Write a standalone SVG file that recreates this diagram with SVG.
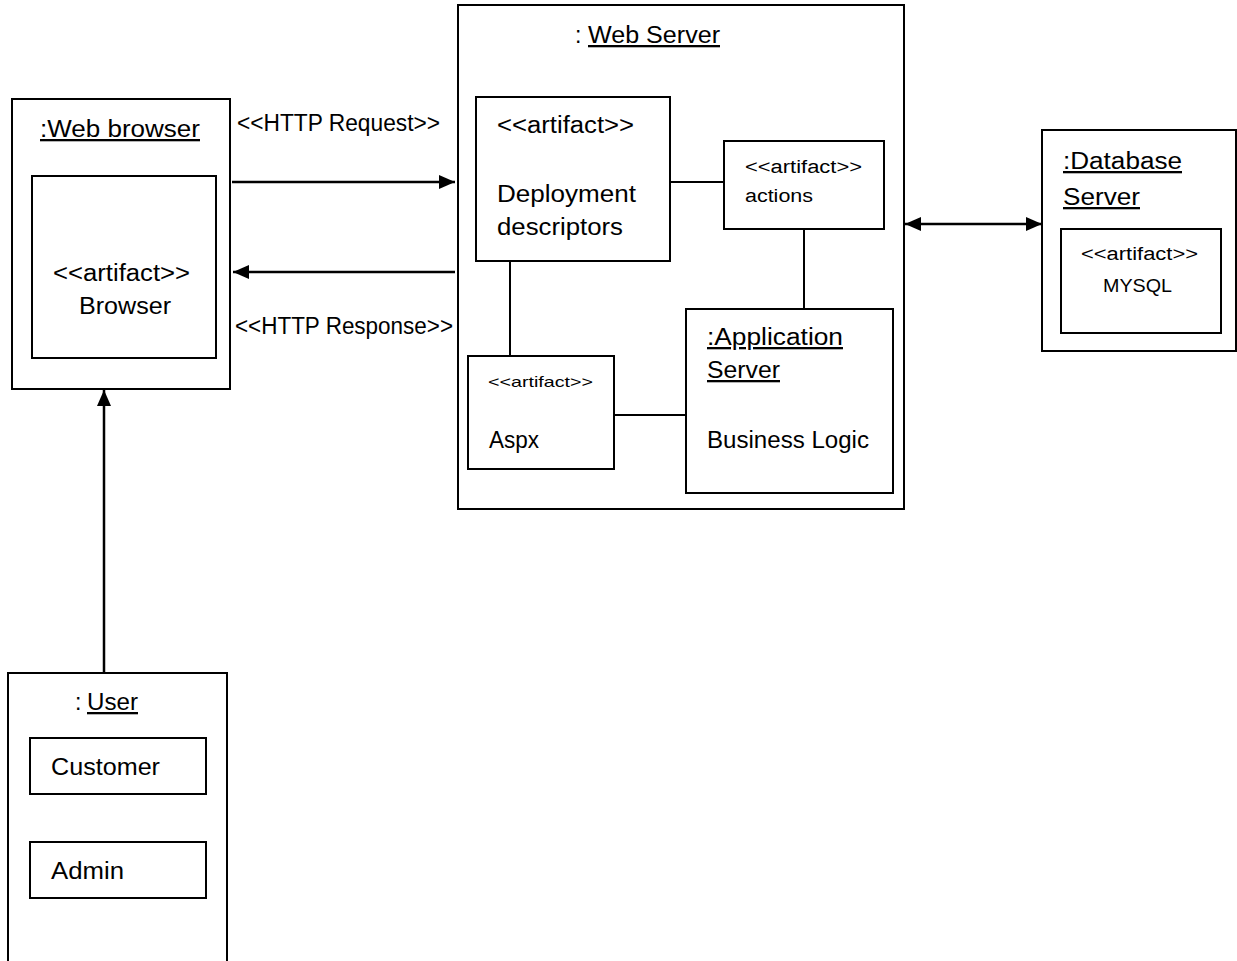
<svg xmlns="http://www.w3.org/2000/svg" width="1237" height="961" viewBox="0 0 1237 961">
<style>
  .box { fill: #ffffff; stroke: #000; stroke-width: 2; }
  .t { font-family: "Liberation Sans", Arial, sans-serif; font-size: 23px; fill: #000; }
  .s { font-size: 18px; }
  .xs { font-size: 15px; }
  .u { text-decoration: underline; }
  .arrow { stroke: #000; stroke-width: 2.5; fill: none; }
  .link { stroke: #000; stroke-width: 2; fill: none; }
</style>
<defs>
  <marker id="ah" markerUnits="userSpaceOnUse" markerWidth="16" markerHeight="14" refX="16" refY="7" orient="auto-start-reverse">
    <path d="M0,0 L16,7 L0,14 Z" fill="#000"/>
  </marker>
</defs>
<rect width="1237" height="961" fill="#ffffff"/>

<g id="web-browser">
  <rect class="box" x="12" y="99" width="218" height="290"/>
  <text class="t u" x="40" y="137" textLength="160" lengthAdjust="spacingAndGlyphs">:Web browser</text>
  <rect class="box" x="32" y="176" width="184" height="182"/>
  <text class="t" x="53" y="281" textLength="137" lengthAdjust="spacingAndGlyphs">&lt;&lt;artifact&gt;&gt;</text>
  <text class="t" x="79" y="314" textLength="92" lengthAdjust="spacingAndGlyphs">Browser</text>
</g>

<g id="web-server">
  <rect class="box" x="458" y="5" width="446" height="504"/>
  <text class="t" x="575" y="43">:</text>
  <text class="t u" x="588" y="43" textLength="132" lengthAdjust="spacingAndGlyphs">Web Server</text>
</g>

<g id="deployment-descriptors">
  <rect class="box" x="476" y="97" width="194" height="164"/>
  <text class="t" x="497" y="133" textLength="137" lengthAdjust="spacingAndGlyphs">&lt;&lt;artifact&gt;&gt;</text>
  <text class="t" x="497" y="202" textLength="139" lengthAdjust="spacingAndGlyphs">Deployment</text>
  <text class="t" x="497" y="235" textLength="126" lengthAdjust="spacingAndGlyphs">descriptors</text>
</g>

<g id="actions">
  <rect class="box" x="724" y="141" width="160" height="88"/>
  <text class="t s" x="745" y="173" textLength="117" lengthAdjust="spacingAndGlyphs">&lt;&lt;artifact&gt;&gt;</text>
  <text class="t s" x="745" y="202" textLength="68" lengthAdjust="spacingAndGlyphs">actions</text>
</g>

<g id="aspx">
  <rect class="box" x="468" y="356" width="146" height="113"/>
  <text class="t xs" x="488" y="387" textLength="105" lengthAdjust="spacingAndGlyphs">&lt;&lt;artifact&gt;&gt;</text>
  <text class="t" x="489" y="448" textLength="50" lengthAdjust="spacingAndGlyphs">Aspx</text>
</g>

<g id="application-server">
  <rect class="box" x="686" y="309" width="207" height="184"/>
  <text class="t u" x="707" y="345" textLength="136" lengthAdjust="spacingAndGlyphs">:Application</text>
  <text class="t u" x="707" y="378" textLength="73" lengthAdjust="spacingAndGlyphs">Server</text>
  <text class="t" x="707" y="448" textLength="162" lengthAdjust="spacingAndGlyphs">Business Logic</text>
</g>

<g id="database-server">
  <rect class="box" x="1042" y="130" width="194" height="221"/>
  <text class="t u" x="1063" y="169" textLength="119" lengthAdjust="spacingAndGlyphs">:Database</text>
  <text class="t u" x="1063" y="205" textLength="77" lengthAdjust="spacingAndGlyphs">Server</text>
  <rect class="box" x="1061" y="229" width="160" height="104"/>
  <text class="t s" x="1081" y="260" textLength="117" lengthAdjust="spacingAndGlyphs">&lt;&lt;artifact&gt;&gt;</text>
  <text class="t s" x="1103" y="292" textLength="69" lengthAdjust="spacingAndGlyphs">MYSQL</text>
</g>

<g id="user">
  <path class="box" d="M8,961 L8,673 L227,673 L227,961"/>
  <text class="t" x="75" y="710">:</text>
  <text class="t u" x="87" y="710" textLength="51" lengthAdjust="spacingAndGlyphs">User</text>
  <rect class="box" x="30" y="738" width="176" height="56"/>
  <text class="t" x="51" y="775" textLength="109" lengthAdjust="spacingAndGlyphs">Customer</text>
  <rect class="box" x="30" y="842" width="176" height="56"/>
  <text class="t" x="51" y="879" textLength="73" lengthAdjust="spacingAndGlyphs">Admin</text>
</g>

<g id="connectors">
  <line class="arrow" x1="232" y1="182" x2="455" y2="182" marker-end="url(#ah)"/>
  <line class="arrow" x1="455" y1="272" x2="233" y2="272" marker-end="url(#ah)"/>
  <line class="arrow" x1="905" y1="224" x2="1042" y2="224" marker-start="url(#ah)" marker-end="url(#ah)"/>
  <line class="arrow" x1="104" y1="672" x2="104" y2="390" marker-end="url(#ah)"/>
  <line class="link" x1="670" y1="182" x2="724" y2="182"/>
  <line class="link" x1="804" y1="229" x2="804" y2="309"/>
  <line class="link" x1="510" y1="261" x2="510" y2="356"/>
  <line class="link" x1="614" y1="415" x2="686" y2="415"/>
  <text class="t" x="237" y="131" textLength="203" lengthAdjust="spacingAndGlyphs">&lt;&lt;HTTP Request&gt;&gt;</text>
  <text class="t" x="235" y="334" textLength="218" lengthAdjust="spacingAndGlyphs">&lt;&lt;HTTP Response&gt;&gt;</text>
</g>
</svg>
